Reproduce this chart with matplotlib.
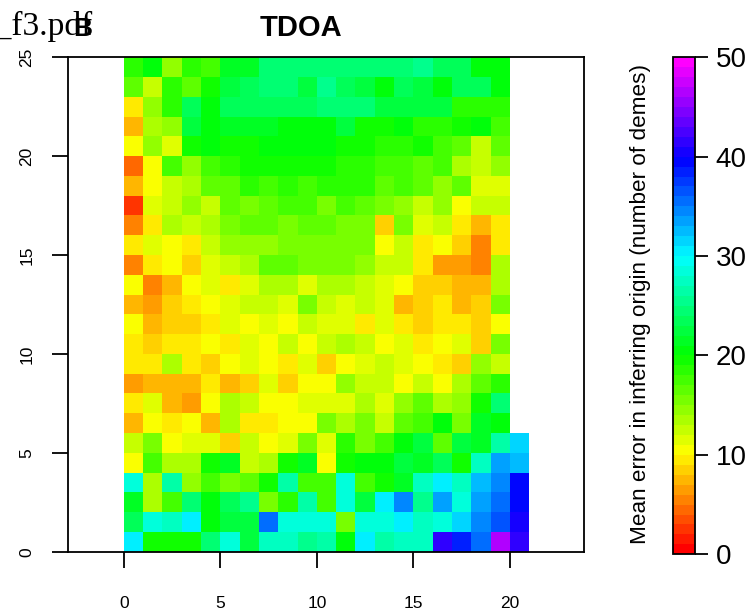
import numpy as np
import matplotlib
matplotlib.use("Agg")
import matplotlib.pyplot as plt
from matplotlib.colors import ListedColormap, Normalize, hsv_to_rgb

# ---- data: mean error per cell (rows = y from 0 bottom to 24 top, cols = x 0..20)
nan = np.nan
row_values = [
    [30, 19, 19, 19, 24, 28, 22, 27, 27, 25, 26, 20, 30, 26, 27, 27, 41, 38, 35, 46, 41],  # y=0
    [23, 29, 27, 30, 20, 22, 22, 35, 28, 29, 28, 15, 28, 29, 30, 27, 28, 31, 34, 36, 40],  # y=1
    [21, 13, 17, 24, 20, 23, 25, 15, 18, 26, 17, 29, 22, 30, 34, 25, 33, 28, 33, 35, 39],  # y=2
    [29, 13, 26, 14, 17, 15, 16, 19, 26, 17, 17, 29, 17, 19, 21, 27, 30, 27, 32, 34, 39],  # y=3
    [10, 17, 13, 13, 19, 21, 12, 13, 19, 21, 10, 19, 20, 20, 22, 21, 23, 19, 27, 33, 32],  # y=4
    [12, 15, 10, 11, 11, 8, 12, 10, 11, 15, 11, 18, 15, 17, 20, 22, 16, 22, 21, 26, 31],   # y=5
    [7, 10, 9, 10, 7, 13, 9, 9, 10, 10, 15, 13, 15, 12, 16, 17, 20, 15, 21, 20, nan],      # y=6
    [9, 11, 7, 6, 10, 13, 12, 10, 10, 11, 11, 11, 13, 11, 14, 16, 13, 14, 19, 24, nan],    # y=7
    [6, 7, 7, 7, 9, 7, 8, 11, 8, 10, 10, 14, 12, 12, 10, 12, 10, 13, 16, 18, nan],         # y=8
    [9, 9, 13, 9, 8, 10, 11, 10, 9, 11, 8, 10, 11, 12, 11, 10, 9, 8, 14, 12, nan],         # y=9
    [9, 8, 9, 9, 10, 9, 11, 10, 12, 10, 12, 13, 12, 10, 11, 9, 10, 11, 8, 15, nan],        # y=10
    [10, 7, 8, 8, 9, 11, 10, 11, 10, 12, 11, 11, 9, 11, 9, 8, 9, 9, 8, 10, nan],           # y=11
    [7, 6, 8, 9, 10, 11, 12, 12, 11, 15, 12, 11, 12, 11, 7, 8, 9, 7, 8, 15, nan],          # y=12
    [10, 5, 7, 10, 11, 9, 11, 13, 13, 11, 13, 13, 12, 11, 10, 8, 8, 7, 7, 13, nan],        # y=13
    [5, 9, 10, 8, 11, 12, 13, 16, 16, 15, 15, 15, 14, 12, 12, 9, 6, 6, 5, 13, nan],        # y=14
    [9, 11, 10, 9, 12, 14, 14, 14, 15, 15, 15, 15, 15, 10, 12, 9, 10, 8, 5, 9, nan],       # y=15
    [5, 9, 13, 12, 13, 15, 16, 16, 15, 16, 16, 15, 15, 8, 15, 11, 12, 9, 7, 9, nan],       # y=16
    [2, 11, 12, 14, 12, 16, 15, 16, 17, 17, 15, 17, 16, 15, 14, 12, 14, 10, 12, 12, nan],  # y=17
    [7, 10, 12, 13, 16, 16, 18, 17, 18, 17, 18, 18, 18, 16, 17, 16, 14, 16, 11, 11, nan],  # y=18
    [4, 10, 17, 14, 17, 18, 19, 19, 19, 19, 19, 18, 18, 17, 17, 16, 17, 13, 12, 14, nan],  # y=19
    [10, 14, 11, 19, 20, 19, 19, 20, 20, 20, 20, 19, 19, 18, 18, 19, 17, 16, 12, 16, nan], # y=20
    [7, 13, 14, 22, 20, 21, 21, 21, 20, 20, 20, 22, 19, 19, 20, 18, 18, 19, 20, 17, nan],  # y=21
    [9, 14, 18, 23, 20, 23, 23, 23, 23, 23, 24, 24, 24, 22, 22, 22, 22, 18, 18, 18, nan],  # y=22
    [16, 12, 18, 16, 19, 22, 23, 24, 24, 22, 25, 23, 22, 20, 23, 22, 20, 23, 23, 20, nan], # y=23
    [18, 20, 14, 18, 17, 21, 21, 24, 24, 24, 24, 24, 24, 24, 24, 25, 23, 23, 20, 20, nan], # y=24
]
x_edges = np.arange(0, 22)
y_edges = np.arange(0, 26)
x_ticks = [0, 5, 10, 15, 20]
y_ticks = [0, 5, 10, 15, 20, 25]
cbar_ticks = [0, 10, 20, 30, 40, 50]
title = "TDOA"
cbar_label = "Mean error in inferring origin (number of demes)"

Z = np.ma.masked_invalid(np.array(row_values, dtype=float))

# rainbow palette (red -> magenta), 50 steps
n_col = 50
hsv = np.column_stack([np.linspace(0, 5 / 6, n_col), np.ones(n_col), np.ones(n_col)])
cmap = ListedColormap(hsv_to_rgb(hsv))
norm = Normalize(vmin=0, vmax=50)

W, H = 750, 614
fig = plt.figure(figsize=(W / 100, H / 100), dpi=100)

def fx(px):
    return px / W

def fy(py):
    return 1 - py / H

L, R, T, B = 68, 584.3, 57.2, 551.7
ax = fig.add_axes([fx(L), fy(B), fx(R) - fx(L), fy(T) - fy(B)])
mesh = ax.pcolormesh(x_edges, y_edges, Z, cmap=cmap, norm=norm, shading="flat")
ax.set_xlim(-2.884, 23.85)
ax.set_ylim(0, 25)
ax.set_xticks(x_ticks)
ax.set_yticks(y_ticks)
ax.set_xticklabels([str(t) for t in x_ticks], family="Liberation Sans", fontsize=12.5)
ax.set_yticklabels([str(t) for t in y_ticks], family="Liberation Sans", fontsize=12.5,
                   rotation=90, va="center")
ax.tick_params(axis="x", length=11.7, width=1.3, pad=20.5)
ax.tick_params(axis="y", length=11.7, width=1.3, pad=12.5)
for sp in ax.spines.values():
    sp.set_linewidth(1.3)

fig.text(fx(301), fy(36), title, ha="center", va="baseline",
         family="Liberation Sans", fontweight="bold", fontsize=21)

# top-left artefact text
fig.text(fx(93), fy(35), "0_f3.pdf", ha="right", va="baseline",
         family="Liberation Serif", fontsize=24)
fig.text(fx(82.5), fy(36), "B", ha="center", va="baseline",
         family="Liberation Sans", fontweight="bold", fontsize=19)

# colorbar
cL, cR, cT, cB = 673.3, 695, 57.2, 554.3
cax = fig.add_axes([fx(cL), fy(cB), fx(cR) - fx(cL), fy(cT) - fy(cB)])
cb = fig.colorbar(mesh, cax=cax, ticks=cbar_ticks)
cb.outline.set_linewidth(1.3)
cax.set_yticklabels([str(t) for t in cbar_ticks], family="Liberation Sans", fontsize=20)
cax.tick_params(length=9, width=1.3, pad=6)
fig.text(fx(646), fy(304.5), cbar_label, rotation=90, rotation_mode="anchor",
         ha="center", va="baseline", family="Liberation Sans", fontsize=16.2)

fig.savefig("out.png", dpi=100)
